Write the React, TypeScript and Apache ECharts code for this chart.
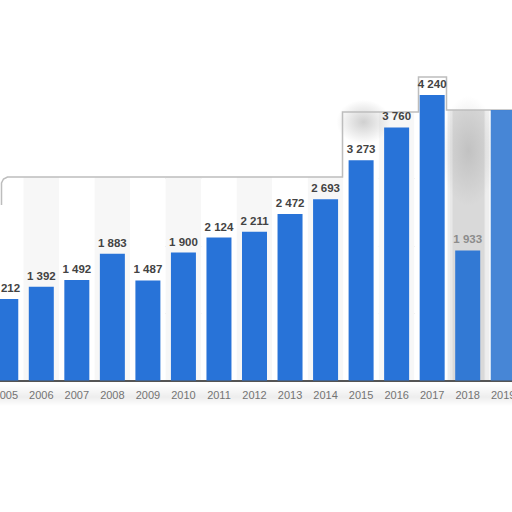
import React, { useEffect, useRef } from "react";
import * as echarts from "echarts";

const years = ["2005", "2006", "2007", "2008", "2009", "2010", "2011", "2012", "2013", "2014", "2015", "2016", "2017", "2018", "2019"];
const values = [1212, 1392, 1492, 1883, 1487, 1900, 2124, 2211, 2472, 2693, 3273, 3760, 4240, 1933, 4020];
const hiddenLabelYears = ["2019"];
const fadedYears = ["2018"];

const fmt = (v: number) => String(v).replace(/\B(?=(\d{3})+(?!\d))/g, " ");

const radial = (a: number) => ({
  type: "radial",
  x: 0.5,
  y: 0.5,
  r: 0.5,
  colorStops: [
    { offset: 0, color: `rgba(150,150,150,${a})` },
    { offset: 1, color: "rgba(150,150,150,0)" },
  ],
});

export default function App() {
  const ref = useRef<HTMLDivElement>(null);
  useEffect(() => {
    if (!ref.current) return;
    const chart = echarts.init(ref.current, undefined, { renderer: "svg" });
    const data = values.map((v, i) => {
      const y = years[i];
      const item: any = { value: v };
      if (hiddenLabelYears.includes(y)) {
        item.label = { show: false };
        item.itemStyle = { color: "#3d7fd4", opacity: 0.95 };
      }
      if (fadedYears.includes(y)) {
        item.label = { color: "#8c8c8c", fontWeight: "bold" };
        item.itemStyle = { color: "#3279d4" };
      }
      return item;
    });
    const off = 12.5;
    const outlinePage = [[1, 205], [1, 183], [3, 179], [7, 177], [342, 177], [342, 112], [418, 112], [418, 77], [446, 77], [446, 110], [530, 110]];
    const outline = outlinePage.map(([x, y]) => [x + off, y]);
    const cover = [[-20, 0], [-20, 205], ...outlinePage, [530, 0]].map(([x, y]) => [x + off, y]);
    chart.setOption({
      animation: false,
      backgroundColor: "#ffffff",
      grid: { left: 0, right: 0, top: 77.6, bottom: 131.5, containLabel: false },
      xAxis: {
        type: "category",
        data: years,
        axisLine: { show: true, lineStyle: { color: "#555", width: 2 } },
        axisTick: { show: false },
        axisLabel: { color: "#7a7a7a", fontSize: 11, fontFamily: "Liberation Sans", margin: 9 },
        splitArea: { show: true, areaStyle: { color: ["#ffffff", "#f7f7f7"] } },
      },
      yAxis: {
        type: "value",
        min: 0,
        max: 4500,
        interval: 1000,
        axisLabel: { show: false },
        axisLine: { show: false },
        axisTick: { show: false },
        splitLine: { show: true, showMaxLine: false, lineStyle: { color: "#cdcdcd", type: [1, 2], width: 1 } },
      },
      graphic: [
        {
          type: "rect",
          z: 1,
          shape: { x: 447 + off, y: 110, width: 42, height: 270 },
          style: { fill: "rgba(200,200,200,0.3)" },
        },
        {
          type: "rect",
          z: 1,
          shape: { x: 452 + off, y: 110, width: 32, height: 270 },
          style: { fill: "rgba(200,200,200,0.45)" },
        },
        {
          type: "rect",
          z: 1,
          shape: { x: 0, y: 384, width: 560, height: 22 },
          style: {
            fill: {
              type: "linear", x: 0, y: 0, x2: 0, y2: 1,
              colorStops: [
                { offset: 0, color: "rgba(0,0,0,0)" },
                { offset: 0.6, color: "rgba(0,0,0,0.07)" },
                { offset: 1, color: "rgba(0,0,0,0)" },
              ],
            },
          },
        },
        {
          type: "polygon",
          z: 1,
          shape: { points: cover },
          style: { fill: "#ffffff" },
        },
        {
          type: "rect",
          z: 1,
          shape: { x: 336 + off, y: 100, width: 54, height: 44 },
          style: { fill: radial(0.45) },
        },
        {
          type: "rect",
          z: 1,
          shape: { x: 440 + off, y: 96, width: 56, height: 110 },
          style: { fill: radial(0.35) },
        },
        {
          type: "polyline",
          z: 1,
          shape: { points: outline },
          style: { stroke: "#bdbdbd", lineWidth: 1.5, fill: null },
        },
      ],
      series: [
        {
          type: "bar",
          data,
          barWidth: 25,
          itemStyle: { color: "#2873d8" },
          label: {
            show: true,
            position: "top",
            distance: 5,
            color: "#434343",
            fontSize: 11.5,
            fontWeight: "bold",
            fontFamily: "Liberation Sans",
            formatter: (p: any) => fmt(p.value),
          },
        },
      ],
    });
    return () => chart.dispose();
  }, []);
  return (
    <div
      ref={ref}
      style={{ position: "absolute", left: -12.5, top: 0, width: 533.3, height: 512 }}
    />
  );
}
